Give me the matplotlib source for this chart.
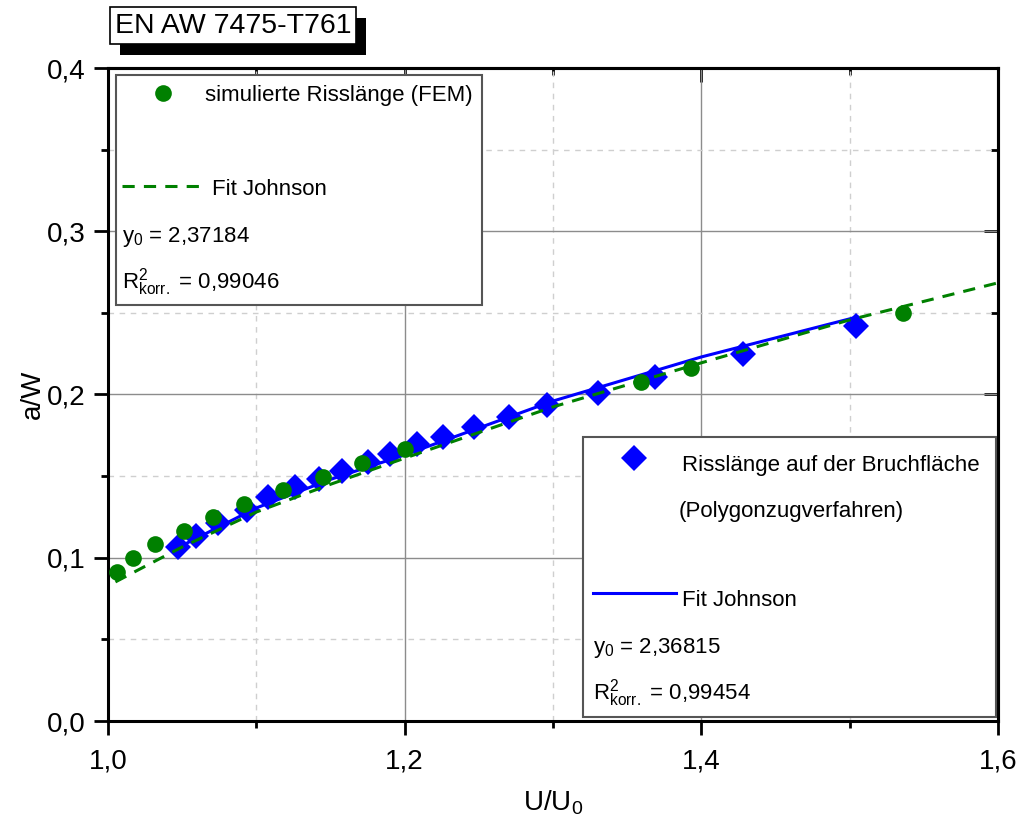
import matplotlib
matplotlib.use("Agg")
import matplotlib.pyplot as plt
from matplotlib.lines import Line2D
from matplotlib.patches import Rectangle
from matplotlib.ticker import MultipleLocator, FuncFormatter

plt.rcParams['font.family'] = ['Liberation Sans', 'DejaVu Sans']
plt.rcParams['mathtext.fontset'] = 'custom'
plt.rcParams['mathtext.rm'] = 'Liberation Sans'
plt.rcParams['mathtext.it'] = 'Liberation Sans:italic'

# simulierte Risslaenge (FEM)
fem_x = [1.006, 1.017, 1.032, 1.051, 1.071, 1.092, 1.118, 1.145, 1.171, 1.200,
         1.359, 1.393, 1.536]
fem_y = [0.0913, 0.0999, 0.1085, 0.1164, 0.1250, 0.1330, 0.1415, 0.1495, 0.1581,
         0.1667, 0.2077, 0.2163, 0.2500]

# Risslaenge auf der Bruchflaeche (Polygonzugverfahren)
bruch_x = [1.047, 1.059, 1.074, 1.094, 1.108, 1.126, 1.142, 1.158, 1.175, 1.190,
           1.208, 1.226, 1.247, 1.270, 1.296, 1.330, 1.369, 1.428, 1.504]
bruch_y = [0.1066, 0.1134, 0.1213, 0.1293, 0.1373, 0.1434, 0.1483, 0.1532, 0.1587,
           0.1636, 0.1697, 0.1740, 0.1801, 0.1863, 0.1936, 0.2010, 0.2108, 0.2249,
           0.2420]

# Fit Johnson
fit_fem_x = [1.005, 1.023, 1.05, 1.1, 1.15, 1.2, 1.3, 1.4, 1.5, 1.6]
fit_fem_y = [0.0852, 0.0938, 0.1066, 0.128, 0.145, 0.161, 0.1924, 0.2194, 0.2457, 0.2684]
fit_bruch_x = [1.045, 1.05, 1.1, 1.15, 1.2, 1.3, 1.4, 1.505]
fit_bruch_y = [0.1045, 0.1075, 0.1305, 0.148, 0.163, 0.196, 0.223, 0.2475]

W, H = 1026, 830
def fx(px):
    return px / W
def fy(py):
    return 1 - py / H

fig = plt.figure(figsize=(10.26, 8.30), dpi=100)
ax = fig.add_axes([fx(108), fy(721), fx(998) - fx(108), fy(68) - fy(721)])

ax.set_xlim(1.0, 1.6)
ax.set_ylim(0.0, 0.4)
ax.xaxis.set_major_locator(MultipleLocator(0.2))
ax.xaxis.set_minor_locator(MultipleLocator(0.1))
ax.yaxis.set_major_locator(MultipleLocator(0.1))
ax.yaxis.set_minor_locator(MultipleLocator(0.05))
komma = FuncFormatter(lambda v, p: f'{v:.1f}'.replace('.', ','))
ax.xaxis.set_major_formatter(komma)
ax.yaxis.set_major_formatter(komma)

ax.grid(which='major', color='#8c8c8c', linewidth=1.0, linestyle='-')
ax.grid(which='minor', color='#cfcfcf', linewidth=1.0, linestyle=(0, (4, 4)))
ax.set_axisbelow(True)

for s in ax.spines.values():
    s.set_linewidth(2.2)
ax.tick_params(which='both', direction='out', width=2, labelsize=20)
ax.tick_params(axis='x', pad=10)
ax.tick_params(axis='y', pad=6)
ax.tick_params(which='major', length=10)
ax.tick_params(which='minor', length=5)

# ticks nach innen oben und rechts
axr = ax.secondary_yaxis('right')
axr.yaxis.set_major_locator(MultipleLocator(0.1))
axr.yaxis.set_minor_locator(MultipleLocator(0.05))
axr.tick_params(which='both', direction='in', width=2, labelright=False)
axr.tick_params(which='major', length=10)
axr.tick_params(which='minor', length=5)
axr.spines['right'].set_linewidth(2.2)
axt = ax.secondary_xaxis('top')
axt.xaxis.set_major_locator(MultipleLocator(0.2))
axt.xaxis.set_minor_locator(MultipleLocator(0.1))
axt.tick_params(which='both', direction='in', width=2, labeltop=False)
axt.tick_params(which='major', length=10)
axt.tick_params(which='minor', length=5)
axt.spines['top'].set_linewidth(2.2)

ax.plot(bruch_x, bruch_y, 'D', color='#0000ff', markersize=13, markeredgewidth=0, zorder=3)
ax.plot(fit_bruch_x, fit_bruch_y, '-', color='#0000ff', linewidth=2.2, zorder=4)
ax.plot(fit_fem_x, fit_fem_y, '--', color='#008000', linewidth=2.2, dashes=(4, 3), zorder=4)
ax.plot(fem_x, fem_y, 'o', color='#008000', markersize=12, markeredgewidth=0, zorder=5)

ax.set_xlabel('U/U$_0$', fontsize=20, va='center')
ax.set_ylabel('a/W', fontsize=20, va='center')
ax.xaxis.set_label_coords(0.5, (721 - 803) / 653)
ax.yaxis.set_label_coords((33 - 108) / 890, 0.5)

# Legendenkaesten
def box(x0, y0, x1, y1, **kw):
    r = Rectangle((fx(x0), fy(y1)), fx(x1) - fx(x0), fy(y0) - fy(y1),
                  transform=fig.transFigure, **kw)
    fig.add_artist(r)

box(116, 75, 482, 305, facecolor='white', edgecolor='#555555', linewidth=1.5, zorder=6)
box(583, 437, 996, 717, facecolor='white', edgecolor='#555555', linewidth=1.5, zorder=6)

ts = 16
fig.add_artist(Line2D([fx(163)], [fy(93)], marker='o', color='#008000', markersize=12,
                      markeredgewidth=0, transform=fig.transFigure, zorder=7))
fig.text(fx(205), fy(101), 'simulierte Risslänge (FEM)', fontsize=ts, zorder=7)
fig.add_artist(Line2D([fx(122), fx(205)], [fy(186), fy(186)], color='#008000',
                      linewidth=2.2, linestyle='--', dashes=(4, 3),
                      transform=fig.transFigure, zorder=7))
fig.text(fx(212), fy(195), 'Fit Johnson', fontsize=ts, zorder=7)
fig.text(fx(122), fy(242), 'y$_0$ = 2,37184', fontsize=ts, zorder=7)
fig.text(fx(122), fy(289), r'R$^{2}_{\mathregular{korr.}}$ = 0,99046', fontsize=ts, zorder=7)

fig.add_artist(Line2D([fx(634)], [fy(458)], marker='D', color='#0000ff', markersize=13,
                      markeredgewidth=0, transform=fig.transFigure, zorder=7))
fig.text(fx(682), fy(471), 'Risslänge auf der Bruchfläche', fontsize=ts, zorder=7)
fig.text(fx(679), fy(517), '(Polygonzugverfahren)', fontsize=ts, zorder=7)
fig.add_artist(Line2D([fx(593), fx(676)], [fy(593), fy(593)], color='#0000ff',
                      linewidth=2.2, transform=fig.transFigure, zorder=7))
fig.text(fx(682), fy(606), 'Fit Johnson', fontsize=ts, zorder=7)
fig.text(fx(593), fy(653), 'y$_0$ = 2,36815', fontsize=ts, zorder=7)
fig.text(fx(593), fy(699), r'R$^{2}_{\mathregular{korr.}}$ = 0,99454', fontsize=ts, zorder=7)

# Titelkasten mit Schatten
box(120, 18, 366, 55, facecolor='black', edgecolor='black', linewidth=0, zorder=6)
box(110, 7, 356, 44, facecolor='white', edgecolor='black', linewidth=1.2, zorder=7)
fig.text(fx(115), fy(26), 'EN AW 7475-T761', fontsize=20.5, va='center', zorder=8)

fig.savefig('out.png', dpi=100)
